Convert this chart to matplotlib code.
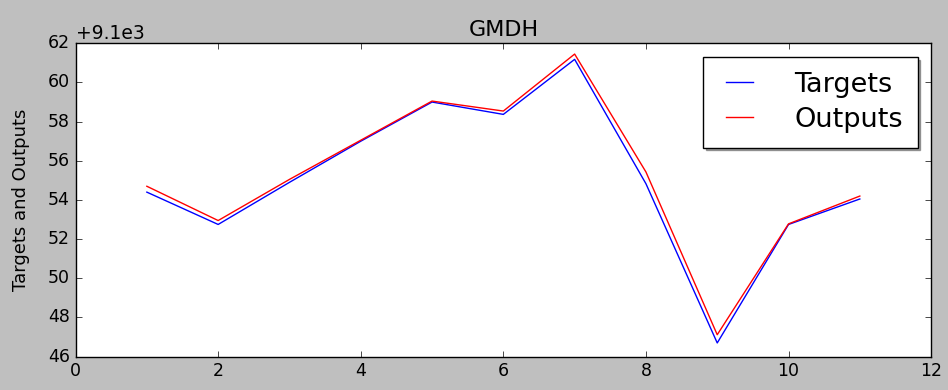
import matplotlib
matplotlib.use("Agg")
import matplotlib.pyplot as plt
from matplotlib.ticker import ScalarFormatter

# data
steps = [1, 2, 3, 4, 5, 6, 7, 8, 9, 10, 11]
targets = [9154.4, 9152.75, 9154.9, 9157.0, 9159.0, 9158.37, 9161.18,
           9154.83, 9146.7, 9152.75, 9154.05]
outputs = [9154.7, 9152.95, 9155.05, 9157.05, 9159.05, 9158.54, 9161.45,
           9155.43, 9147.12, 9152.78, 9154.2]

plt.style.use('classic')

fig = plt.figure(figsize=(9.48, 3.9), dpi=100)
ax = fig.add_axes([0.0797, 0.0855, 0.9025, 0.8035])

ax.plot(steps, targets, color='b', linewidth=1.0, label='Targets')
ax.plot(steps, outputs, color='r', linewidth=1.0, label='Outputs')

ax.set_xlim(0, 12)
ax.set_ylim(9146, 9162)
ax.set_xticks(range(0, 13, 2))
ax.set_yticks(range(9146, 9163, 2))

fmt = ScalarFormatter(useOffset=9100)
ax.yaxis.set_major_formatter(fmt)
ax.yaxis.get_offset_text().set_fontsize(13.5)

ax.tick_params(labelsize=12.5)
ax.set_title('GMDH', fontsize=16, pad=5)
ax.set_ylabel('Targets and Outputs', fontsize=13, labelpad=13)

ax.legend(loc='upper right', fontsize=19.5, handlelength=1.6,
          handletextpad=1.2, borderaxespad=0.5, labelspacing=0.33,
          borderpad=0.55, shadow=True)

fig.savefig('out.png', dpi=100, facecolor=fig.get_facecolor())
